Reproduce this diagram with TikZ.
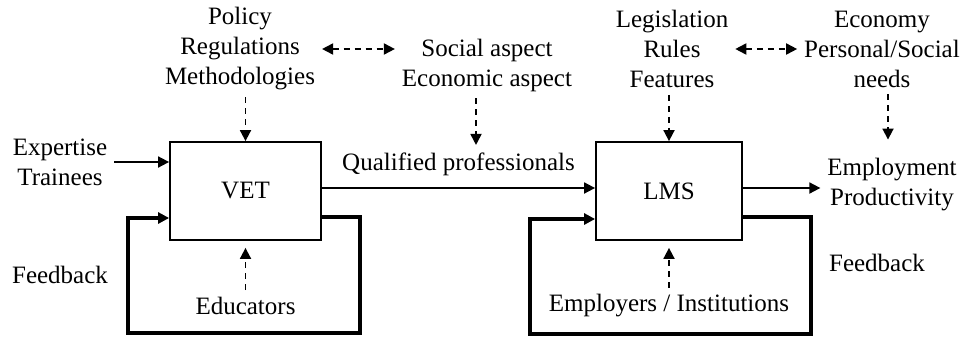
\documentclass[tikz,border=0pt]{standalone}
\usepackage{fontspec}
\setmainfont{Liberation Serif}
\usetikzlibrary{arrows.meta}
\begin{document}
\begin{tikzpicture}[x=0.5pt,y=-0.5pt,
  every node/.style={font=\fontsize{12.5}{15}\selectfont, align=center},
  blk/.style={draw, line width=0.9pt, minimum width=75.5pt, minimum height=49pt},
  tip/.style={-{Triangle[length=5.5pt,width=5.5pt]}},
  arr/.style={tip, line width=0.9pt},
  dasharr/.style={tip, line width=0.9pt, dash pattern=on 3pt off 2.5pt},
  dblarr/.style={{Triangle[length=5.5pt,width=5.5pt]}-{Triangle[length=5.5pt,width=5.5pt]},
    line width=0.9pt, dash pattern=on 3pt off 2.5pt},
  fb/.style={tip, line width=1.7pt}]
\useasboundingbox (0,0) rectangle (964,338);

   \node (vet) [blk] at (245.5,191) {VET};
   \node (lms) [blk, minimum width=73pt] at (669,191) {LMS};
   \node (exp) at (60,162) {Expertise\\Trainees};
   \node (pol) at (240,49) {Policy\\Regulations\\Methodologies};
   \node (soc) at (487,65) {Social aspect\\Economic aspect};
   \node (leg) at (672,49) {Legislation\\Rules\\Features};
   \node (eco) at (882,49) {Economy\\Personal/Social\\needs};
   \node (emp) at (892,185) {Employment\\Productivity};
   \node (edu) [below of=vet, node distance=57.5pt] {Educators};
   \node (emi) [below of=lms, node distance=57.5pt] {Employers / Institutions};
   \node (fbv) at (60,275) {Feedback};
   \node (fbl) at (877,263) {Feedback};
   \coordinate (vetR) at (360,333);
   \coordinate (vetL) at (128,333);
   \coordinate (lmsR) at (811,334);
   \coordinate (lmsL) at (530,334);

   \path[arr]
     (exp.east) edge (exp.east -| vet.west)
     ([yshift=1.5pt]vet.east) edge node [above, yshift=2.5pt] (qual) {Qualified professionals} ([yshift=1.5pt]lms.west)
     ([yshift=1.5pt]lms.east) edge ([yshift=1.5pt]lms.east -| emp.west);
   \path[dasharr]
     (vet.north |- pol.south) edge (vet.north)
     ([xshift=-5.5pt]soc.south) edge ([xshift=8.75pt]qual.north)
     (lms.north |- leg.south) edge (lms.north)
     ([xshift=3pt]eco.south) edge[shorten >=6pt] ([xshift=-2pt]emp.north)
     (edu.north) edge ([yshift=-3.5pt]vet.south)
     (emi.north) edge ([yshift=-3.5pt]lms.south);
   \path[dblarr]
     (pol.east) edge (pol.east -| soc.west)
     (leg.east) edge (leg.east -| eco.west);
   \draw[fb] ([yshift=-13pt]vet.east) -| (vetR) -- (vetL) |- ([yshift=-13.5pt]vet.west);
   \draw[fb] ([yshift=-13pt]lms.east) -| (lmsR) -- (lmsL) |- ([yshift=-14pt]lms.west);
\end{tikzpicture}
\end{document}
